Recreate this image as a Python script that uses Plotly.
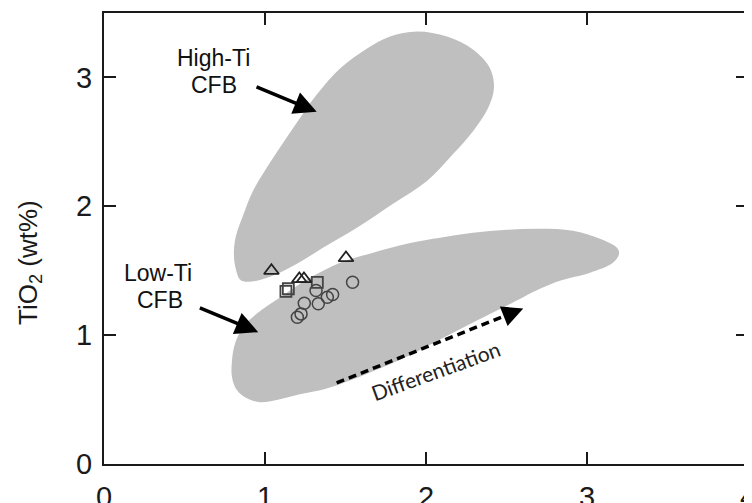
import plotly.graph_objects as go

# ---- data ----
x_ticks = [0, 1, 2, 3, 4]
y_ticks = [0, 1, 2, 3]

high_ti_x = [0.845, 0.814, 0.807, 0.820, 0.863, 0.925, 1.050, 1.174, 1.323, 1.466, 1.634, 1.776,
             1.944, 2.130, 2.292, 2.398, 2.422, 2.385, 2.292, 2.168, 2.006, 1.795, 1.571, 1.360,
             1.199, 1.050, 0.950, 0.876]
high_ti_y = [1.431, 1.539, 1.655, 1.771, 1.926, 2.119, 2.374, 2.606, 2.869, 3.070, 3.225, 3.318,
             3.357, 3.318, 3.217, 3.070, 2.916, 2.761, 2.583, 2.405, 2.196, 2.019, 1.833, 1.678,
             1.554, 1.462, 1.423, 1.415]

low_ti_x = [0.950, 1.093, 1.261, 1.466, 1.671, 1.882, 2.087, 2.292, 2.503, 2.708, 2.913, 3.081,
            3.186, 3.199, 3.161, 3.019, 2.832, 2.708, 2.503, 2.292, 2.087, 1.882, 1.671, 1.466,
            1.342, 1.217, 1.093, 0.969, 0.888, 0.826, 0.795, 0.795, 0.814, 0.863]
low_ti_y = [1.168, 1.292, 1.431, 1.562, 1.640, 1.709, 1.756, 1.794, 1.817, 1.825, 1.810, 1.748,
            1.678, 1.632, 1.562, 1.485, 1.423, 1.361, 1.230, 1.098, 0.967, 0.835, 0.719, 0.619,
            0.572, 0.541, 0.503, 0.480, 0.510, 0.572, 0.673, 0.804, 0.936, 1.060]

tri_x = [1.04, 1.213, 1.242, 1.503]
tri_y = [1.50, 1.436, 1.436, 1.599]

sq_x = [1.13, 1.145, 1.325]
sq_y = [1.34, 1.36, 1.41]

circ_x = [1.544, 1.317, 1.420, 1.387, 1.331, 1.244, 1.224, 1.201]
circ_y = [1.410, 1.346, 1.315, 1.294, 1.243, 1.248, 1.165, 1.139]

diff_start = [1.445, 0.629]
diff_end = [2.604, 1.207]

# ---- figure ----
fig = go.Figure()
GRAY = "#bfbfbf"
MK = "#444444"

fig.add_trace(go.Scatter(x=high_ti_x + high_ti_x[:1], y=high_ti_y + high_ti_y[:1],
                         mode="lines", fill="toself", fillcolor=GRAY,
                         line=dict(width=0, color=GRAY, shape="spline", smoothing=1.0),
                         hoverinfo="skip", showlegend=False))
fig.add_trace(go.Scatter(x=low_ti_x + low_ti_x[:1], y=low_ti_y + low_ti_y[:1],
                         mode="lines", fill="toself", fillcolor=GRAY,
                         line=dict(width=0, color=GRAY, shape="spline", smoothing=1.0),
                         hoverinfo="skip", showlegend=False))

# dashed differentiation line (arrowhead added as annotation)
fx = diff_start[0] + 0.93 * (diff_end[0] - diff_start[0])
fy = diff_start[1] + 0.93 * (diff_end[1] - diff_start[1])
fig.add_trace(go.Scatter(x=[diff_start[0], fx], y=[diff_start[1], fy], mode="lines",
                         line=dict(color="black", width=3.5, dash="8px,5px"),
                         hoverinfo="skip", showlegend=False))

fig.add_trace(go.Scatter(x=circ_x, y=circ_y, mode="markers", showlegend=False,
                         marker=dict(symbol="circle-open", size=12, color=MK, line=dict(width=1.5, color=MK))))
fig.add_trace(go.Scatter(x=sq_x, y=sq_y, mode="markers", showlegend=False,
                         marker=dict(symbol="square-open", size=11, color=MK, line=dict(width=1.8, color=MK))))
fig.add_trace(go.Scatter(x=tri_x, y=tri_y, mode="markers", showlegend=False,
                         marker=dict(symbol="triangle-up-open", size=13, color="#222", line=dict(width=1.8, color="#222"))))

FONT = "Liberation Sans, Arial, sans-serif"
txt_font = dict(family=FONT, size=23, color="#111")
ann = [
    dict(x=0.683, y=3.150, text="High-Ti"),
    dict(x=0.683, y=2.944, text="CFB"),
    dict(x=0.335, y=1.481, text="Low-Ti"),
    dict(x=0.348, y=1.276, text="CFB"),
]
for a in ann:
    fig.add_annotation(x=a["x"], y=a["y"], text=a["text"], showarrow=False, font=txt_font,
                       xanchor="center", yanchor="middle")

# black arrows
fig.add_annotation(x=1.321, y=2.733, ax=0.938, ay=2.931, axref="x", ayref="y", xref="x", yref="y",
                   text="", showarrow=True, arrowhead=2, arrowsize=1.3, arrowwidth=3.5, arrowcolor="black")
fig.add_annotation(x=0.958, y=1.023, ax=0.586, ay=1.217, axref="x", ayref="y", xref="x", yref="y",
                   text="", showarrow=True, arrowhead=2, arrowsize=1.3, arrowwidth=3.5, arrowcolor="black")
# differentiation arrowhead
fig.add_annotation(x=diff_end[0], y=diff_end[1], ax=fx, ay=fy, axref="x", ayref="y", xref="x", yref="y",
                   text="", showarrow=True, arrowhead=2, arrowsize=1.2, arrowwidth=3.5, arrowcolor="black")

fig.add_annotation(x=2.06, y=0.727, text="Differentiation", showarrow=False, textangle=-20,
                   font=dict(family="Lato, Open Sans, sans-serif", size=21, color="#222"))

# y-axis title (as annotation so it sits where the reference has it)
fig.add_annotation(x=0, xref="paper", y=1.56, yref="y", xshift=-74, textangle=-90,
                   text="TiO<sub>2</sub> (wt%)", showarrow=False, xanchor="center", yanchor="middle",
                   font=dict(family=FONT, size=26, color="#1a1a1a"))

axis_common = dict(showline=True, linecolor="#1a1a1a", linewidth=2, mirror="ticks",
                   ticks="inside", ticklen=12, tickwidth=1.5, tickcolor="#1a1a1a",
                   showgrid=False, zeroline=False, automargin=False, ticklabeloverflow="allow",
                   tickfont=dict(family=FONT, size=29, color="#1a1a1a"))

fig.update_xaxes(range=[0, 4], tickvals=x_ticks, ticktext=[str(v) for v in x_ticks],
                 ticklabelstandoff=6, **axis_common)
fig.update_yaxes(range=[0, 3.5], tickvals=y_ticks, ticktext=[str(v) for v in y_ticks],
                 ticklabelstandoff=4, **axis_common)

# page body has an 8px margin, so the figure is sized/offset to land the frame where the reference has it
fig.update_layout(width=744, height=495, margin=dict(l=96, r=4, t=5, b=39),
                  plot_bgcolor="white", paper_bgcolor="white", showlegend=False)

fig.write_html("out.html")
